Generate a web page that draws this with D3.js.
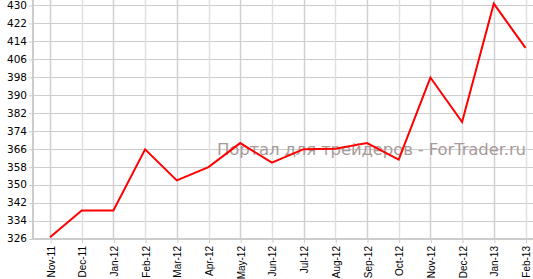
<!DOCTYPE html>
<html>
<head>
<meta charset="utf-8">
<script src="https://cdn.jsdelivr.net/npm/d3@7"></script>
<style>
  body { margin: 0; background: #fff; }
  svg { display: block; }
</style>
</head>
<body>
<svg id="chart"></svg>
<script>
// chart data
const months = ["Nov-11", "Dec-11", "Jan-12", "Feb-12", "Mar-12", "Apr-12", "May-12", "Jun-12",
  "Jul-12", "Aug-12", "Sep-12", "Oct-12", "Nov-12", "Dec-12", "Jan-13", "Feb-13"];
const values = [326.6, 338.5, 338.5, 365.7, 351.9, 357.8, 368.5, 359.8,
  365.8, 366, 368.5, 361.1, 397.7, 377.9, 430.6, 410.9];
const yTicks = [326, 334, 342, 350, 358, 366, 374, 382, 390, 398, 406, 414, 422, 430];
const watermark = "Портал для трейдеров - ForTrader.ru";

const width = 533, height = 279;
const svg = d3.select("#chart").attr("width", width).attr("height", height);

const x = d3.scalePoint().domain(months).range([50, 525.5]);
const y = d3.scaleLinear().domain([326, 430]).range([238.5, 5]);

// grid
const grid = svg.append("g");
grid.selectAll("line.h")
  .data(yTicks)
  .enter()
  .append("line")
  .attr("x1", 33).attr("x2", width)
  .attr("y1", d => Math.round(y(d)) + 0.5).attr("y2", d => Math.round(y(d)) + 0.5)
  .attr("stroke", "#cdcdcd");
grid.selectAll("line.v")
  .data(months)
  .enter()
  .append("line")
  .attr("x1", d => Math.round(x(d)) + 0.5).attr("x2", d => Math.round(x(d)) + 0.5)
  .attr("y1", 0).attr("y2", 239)
  .attr("stroke", (d, i) => i % 2 ? "#e0e0e0" : "#d0d0d0")
  .attr("stroke-width", 1.5);

// y axis
const yAxis = svg.append("g")
  .attr("transform", "translate(33,0)")
  .call(d3.axisLeft(y).tickValues(yTicks).tickSize(4).tickPadding(2));
yAxis.select(".domain").remove();
yAxis.selectAll("line").attr("stroke", "#cccccc").attr("transform", "translate(0,0.5)");
yAxis.selectAll("text")
  .attr("font-family", "'DejaVu Sans', Verdana, sans-serif")
  .attr("font-size", 10.5)
  .attr("fill", "#000");
svg.append("line")
  .attr("x1", 33).attr("x2", 33).attr("y1", 0).attr("y2", 240)
  .attr("stroke", "#cccccc").attr("stroke-width", 2);

// x axis
const xAxis = svg.append("g")
  .attr("transform", "translate(0,239)")
  .call(d3.axisBottom(x).tickSize(4).tickSizeOuter(0));
xAxis.select(".domain").remove();
xAxis.selectAll("line").attr("stroke", "#cccccc").attr("transform", "translate(0.5,0)");
xAxis.selectAll("text")
  .attr("font-family", "'Liberation Sans', Arial, sans-serif")
  .attr("font-size", 10)
  .attr("fill", "#000")
  .attr("text-anchor", "end")
  .attr("dy", "0.35em")
  .attr("transform", "translate(0.5,7) rotate(-90)")
  .attr("x", 0).attr("y", 0);
svg.append("line")
  .attr("x1", 32).attr("x2", width).attr("y1", 239).attr("y2", 239)
  .attr("stroke", "#cccccc").attr("stroke-width", 2);

// watermark
svg.append("text")
  .attr("x", 217).attr("y", 155)
  .attr("font-family", "'DejaVu Sans', Verdana, sans-serif")
  .attr("font-size", 16.5)
  .attr("fill", "#a89a9a")
  .attr("textLength", 309)
  .text(watermark);

// line
const line = d3.line()
  .x((d, i) => x(months[i]))
  .y(d => y(d));
svg.append("path")
  .datum(values)
  .attr("d", line)
  .attr("fill", "none")
  .attr("stroke", "#ff0000")
  .attr("stroke-width", 2)
  .attr("stroke-linejoin", "miter");
</script>
</body>
</html>
